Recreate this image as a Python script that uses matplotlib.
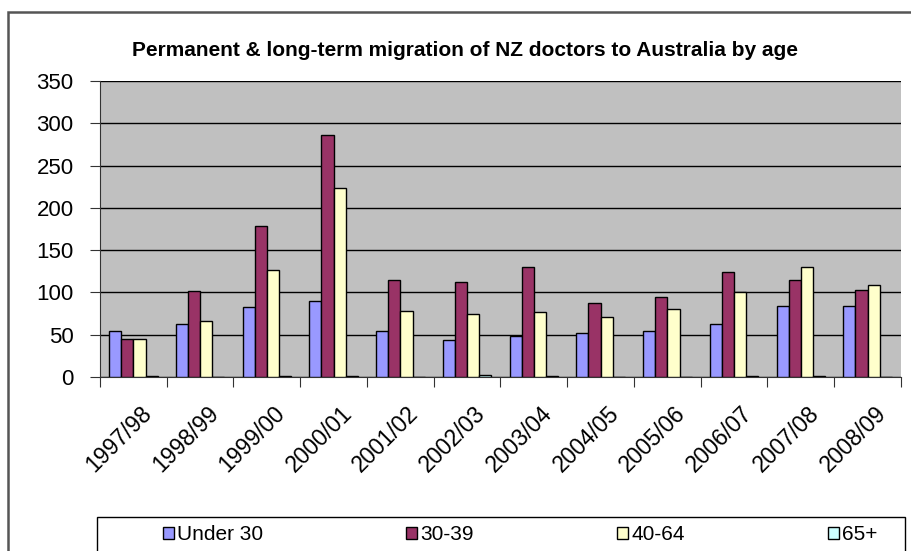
import matplotlib
matplotlib.use('Agg')
import matplotlib.pyplot as plt
import numpy as np
from matplotlib.patches import Rectangle

plt.rcParams['font.family'] = ['Liberation Sans', 'DejaVu Sans']

years = ['1997/98', '1998/99', '1999/00', '2000/01', '2001/02', '2002/03',
         '2003/04', '2004/05', '2005/06', '2006/07', '2007/08', '2008/09']
under_30 = [54, 63, 83, 90, 54, 44, 49, 52, 54, 63, 84, 84]
age_30_39 = [45, 102, 179, 286, 115, 112, 130, 88, 95, 124, 115, 103]
age_40_64 = [45, 66, 127, 224, 78, 75, 77, 71, 80, 100, 130, 109]
age_65_plus = [1, 0, 1, 1, 0, 2, 1, 0, 0, 1, 1, 0]

series = [('Under 30', under_30, '#9999FF'),
          ('30-39', age_30_39, '#993366'),
          ('40-64', age_40_64, '#FFFFCC'),
          ('65+', age_65_plus, '#CCFFFF')]

fig = plt.figure(figsize=(9.12, 5.51), dpi=100)
ax = fig.add_axes([100/912, 174/551, 801/912, 296/551])
ax.set_facecolor('#C0C0C0')

# outer chart frame (runs off the right and bottom edges)
fig.add_artist(Rectangle((8/912, -0.05), 2, 1.05 - 12/551, transform=fig.transFigure,
                         fill=False, edgecolor='#555555', lw=1.8))

x = np.arange(len(years))
width = 1 / 5.5
bars = []
for i, (name, vals, color) in enumerate(series):
    b = ax.bar(x + (i - 1.5) * width, vals, width, color=color, edgecolor='black',
               linewidth=1, label=name, zorder=3)
    bars.append(b)

ax.set_ylim(0, 350)
ax.set_yticks(range(0, 351, 50))
ax.set_xlim(-0.5, len(years) - 0.5)
ax.yaxis.grid(True, color='black', linewidth=1, zorder=1)
ax.set_axisbelow(True)
for side in ['top', 'right']:
    ax.spines[side].set_visible(False)
ax.spines['left'].set_color('#333333')
ax.spines['bottom'].set_color('#333333')
ax.tick_params(axis='y', labelsize=16, length=7, pad=12, color='#333333')

# category ticks sit between the groups
ax.set_xticks(np.arange(-0.5, len(years), 1))
ax.set_xticklabels([])
ax.tick_params(axis='x', length=7, color='#333333', direction='out')
for xi, lab in zip(x, years):
    ax.text(xi + 0.1, -29, lab, rotation=45, ha='right', va='top',
            fontsize=16.5, rotation_mode='anchor', transform=ax.transData)

fig.text(0.5 + 9/912, 1 - 50/551,
         'Permanent & long-term migration of NZ doctors to Australia by age',
         ha='center', va='center', fontsize=15, fontweight='bold')

# legend box
fig.add_artist(Rectangle((97/912, -0.05), 808/912, 0.05 + 34/551,
                         transform=fig.transFigure, fill=False,
                         edgecolor='black', lw=1))
leg = fig.legend(handles=bars, labels=[s[0] for s in series], loc='center',
                 ncol=4, bbox_to_anchor=(520/912, 1 - 535/551),
                 fontsize=15, frameon=False, handlelength=0.55,
                 handleheight=0.55, handletextpad=0.15, columnspacing=6.85,
                 borderaxespad=0)

fig.savefig('out.png', dpi=100, facecolor='white')
